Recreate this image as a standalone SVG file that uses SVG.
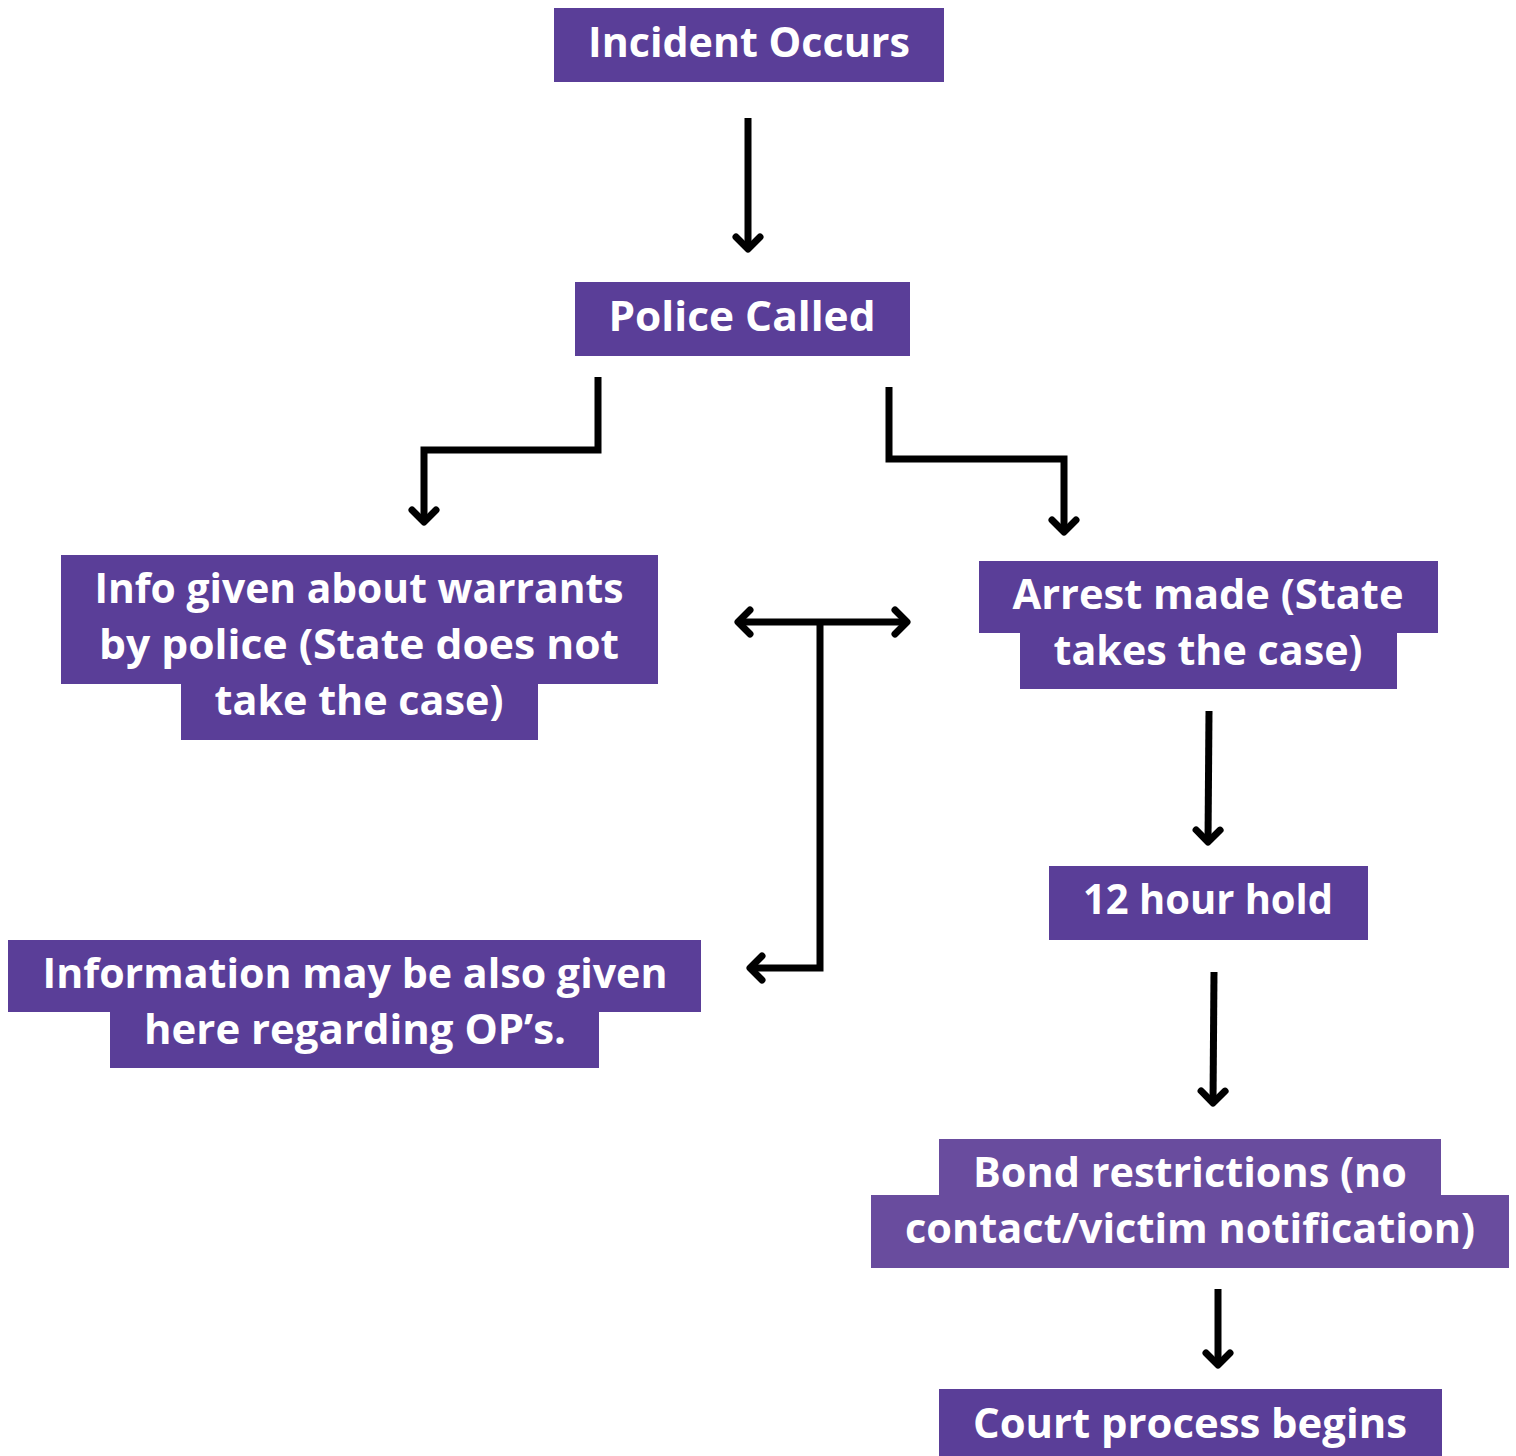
<svg xmlns="http://www.w3.org/2000/svg" width="1516" height="1456" viewBox="0 0 1516 1456">
<style>
.box{fill:#5a3e98}
.box2{fill:#694c9e}
.t{font-family:"Open Sans","Liberation Sans",sans-serif;font-weight:700;font-size:41px;fill:#ffffff;text-anchor:middle}
.c{fill:none;stroke:#000;stroke-width:7;stroke-linejoin:miter}
</style>
<defs>
<marker id="ah" markerUnits="userSpaceOnUse" viewBox="-20 -20 30 40" refX="0" refY="0" markerWidth="30" markerHeight="40" orient="auto-start-reverse">
<path d="M-12,-12 L0,0 L-12,12" fill="none" stroke="#000" stroke-width="7" stroke-linecap="round" stroke-linejoin="round"/>
</marker>
</defs>
<rect width="1516" height="1456" fill="#ffffff"/>
<g id="connectors">
<path class="c" d="M748,118 L748,249" marker-end="url(#ah)"/>
<path class="c" d="M598,377 L598,450 L424,450 L424,522" marker-end="url(#ah)"/>
<path class="c" d="M889,387 L889,459 L1064,459 L1064,532" marker-end="url(#ah)"/>
<path class="c" d="M738,622 L907,622" marker-start="url(#ah)" marker-end="url(#ah)"/>
<path class="c" d="M820,622 L820,968 L750,968" marker-end="url(#ah)"/>
<path class="c" d="M1209,711 L1208,842" marker-end="url(#ah)"/>
<path class="c" d="M1214,972 L1213,1103" marker-end="url(#ah)"/>
<path class="c" d="M1218,1289 L1218,1365" marker-end="url(#ah)"/>
</g>
<g id="incident">
<rect class="box" x="554" y="8" width="390" height="74"/>
<text class="t" x="749" y="57" textLength="322" lengthAdjust="spacingAndGlyphs">Incident Occurs</text>
</g>
<g id="police">
<rect class="box" x="575" y="282" width="335" height="74"/>
<text class="t" x="742" y="331" textLength="267" lengthAdjust="spacingAndGlyphs">Police Called</text>
</g>
<g id="info">
<rect class="box" x="61" y="555" width="597" height="129"/>
<rect class="box" x="181" y="683" width="357" height="57"/>
<text class="t" x="359" y="603" textLength="529" lengthAdjust="spacingAndGlyphs">Info given about warrants</text>
<text class="t" x="359" y="659" textLength="520" lengthAdjust="spacingAndGlyphs">by police (State does not</text>
<text class="t" x="359" y="715" textLength="289" lengthAdjust="spacingAndGlyphs">take the case)</text>
</g>
<g id="arrest">
<rect class="box" x="979" y="561" width="459" height="72"/>
<rect class="box" x="1020" y="632" width="377" height="57"/>
<text class="t" x="1208" y="609" textLength="391" lengthAdjust="spacingAndGlyphs">Arrest made (State</text>
<text class="t" x="1208" y="665" textLength="309" lengthAdjust="spacingAndGlyphs">takes the case)</text>
</g>
<g id="information">
<rect class="box" x="8" y="940" width="693" height="72"/>
<rect class="box" x="110" y="1011" width="489" height="57"/>
<text class="t" x="355" y="988" textLength="625" lengthAdjust="spacingAndGlyphs">Information may be also given</text>
<text class="t" x="355" y="1044" textLength="422" lengthAdjust="spacingAndGlyphs">here regarding OP’s.</text>
</g>
<g id="hold">
<rect class="box" x="1049" y="866" width="319" height="74"/>
<text class="t" x="1208" y="914" textLength="250" lengthAdjust="spacingAndGlyphs">12 hour hold</text>
</g>
<g id="bond">
<rect class="box2" x="939" y="1139" width="502" height="57"/>
<rect class="box2" x="871" y="1195" width="638" height="73"/>
<text class="t" x="1190" y="1187" textLength="434" lengthAdjust="spacingAndGlyphs">Bond restrictions (no</text>
<text class="t" x="1190" y="1243" textLength="570" lengthAdjust="spacingAndGlyphs">contact/victim notification)</text>
</g>
<g id="court">
<rect class="box" x="939" y="1389" width="503" height="67"/>
<text class="t" x="1190" y="1438" textLength="434" lengthAdjust="spacingAndGlyphs">Court process begins</text>
</g>
</svg>
